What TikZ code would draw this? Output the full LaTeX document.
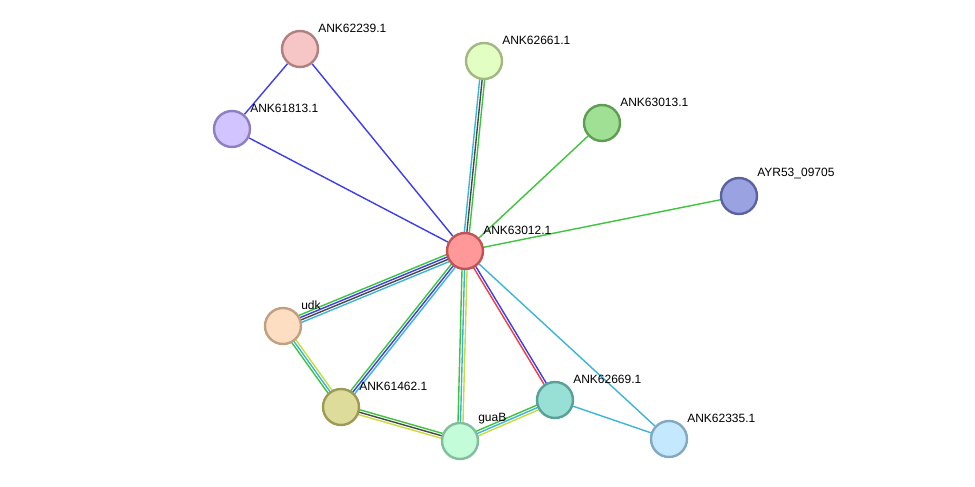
\documentclass[tikz,border=0pt]{standalone}
\usepackage{fontspec}
\setmainfont{Liberation Sans}
\usetikzlibrary{calc,backgrounds}

\definecolor{egreen}{HTML}{3CC43C}
\definecolor{eblue}{HTML}{3C3CF0}
\definecolor{ered}{HTML}{F03C3C}
\definecolor{egray}{HTML}{484848}
\definecolor{ecyan}{HTML}{3CB4D8}
\definecolor{eyellow}{HTML}{C8DC3C}
% protein fill / border
\definecolor{fA}{HTML}{FF9898}\definecolor{bA}{HTML}{C05454}
\definecolor{fB}{HTML}{F6C6C6}\definecolor{bB}{HTML}{B08080}
\definecolor{fC}{HTML}{E2FEC2}\definecolor{bC}{HTML}{A2B882}
\definecolor{fD}{HTML}{D2C4FE}\definecolor{bD}{HTML}{8E7EC2}
\definecolor{fE}{HTML}{A0E094}\definecolor{bE}{HTML}{5E9E52}
\definecolor{fF}{HTML}{9AA2E2}\definecolor{bF}{HTML}{5A62A2}
\definecolor{fG}{HTML}{FEDEC2}\definecolor{bG}{HTML}{C0A080}
\definecolor{fH}{HTML}{DEDC9A}\definecolor{bH}{HTML}{9C9A54}
\definecolor{fI}{HTML}{C2FCD8}\definecolor{bI}{HTML}{82BE9E}
\definecolor{fJ}{HTML}{98E0D6}\definecolor{bJ}{HTML}{58A098}
\definecolor{fK}{HTML}{C4E8FE}\definecolor{bK}{HTML}{82A8C2}

% bundle of parallel lines, colour/offset pairs
\newcommand{\lnk}[3]{%
  \foreach \c/\o in {#3} {\draw[edge,\c] ($(#1)!\o pt!90:(#2)$) -- ($(#2)!\o pt!-90:(#1)$);}}

\tikzset{
  prot/.style={circle,minimum size=36pt,inner sep=0pt,line width=2.4pt,
    fill=f#1,draw=b#1,label distance=5pt},
  every label/.style={font=\fontsize{12}{14}\selectfont,inner sep=2pt,xshift=2.5pt,yshift=1pt},
  edge/.style={line width=1.4pt}
}

\begin{document}
\begin{tikzpicture}[x=1pt,y=-1pt]
  \useasboundingbox (0,0) rectangle (975,487);

  % proteins
  \node[prot=A,label={45:ANK63012.1}] (c) at (465,251) {};
  \node[prot=B,label={45:ANK62239.1}] (p62239) at (300,49) {};
  \node[prot=C,label={45:ANK62661.1}] (p62661) at (484,61) {};
  \node[prot=D,label={45:ANK61813.1}] (p61813) at (232,129) {};
  \node[prot=E,label={45:ANK63013.1}] (p63013) at (602,123) {};
  \node[prot=F,label={45:AYR53\_09705}] (ayr) at (739,196) {};
  \node[prot=G,label={45:udk}] (udk) at (283,326) {};
  \node[prot=H,label={45:ANK61462.1}] (p61462) at (341,407) {};
  \node[prot=I,label={45:guaB}] (guab) at (460,441) {};
  \node[prot=J,label={45:ANK62669.1}] (p62669) at (555,400) {};
  \node[prot=K,label={45:ANK62335.1}] (p62335) at (669,439) {};

  % interactions
  \begin{pgfonlayer}{background}
    \lnk{c}{udk}{egreen/-3.75,eblue/-1.25,egray/1.25,ecyan/3.75}
    \lnk{c}{p61462}{egreen/-2.5,eblue/0,ecyan/2.5}
    \lnk{c}{guab}{egreen/-2.5,ecyan/0,eyellow/2.5}
    \lnk{c}{p62669}{ered/-1.25,eblue/1.25}
    \lnk{c}{p62661}{egreen/-2.5,egray/0,ecyan/2.5}
    \lnk{udk}{p61462}{egreen/-2.5,ecyan/0,eyellow/2.5}
    \lnk{p61462}{guab}{eyellow/-2.5,egray/0,egreen/2.5}
    \lnk{guab}{p62669}{eyellow/-2.5,ecyan/0,egreen/2.5}
    \draw[edge,egreen] (c) -- (p63013);
    \draw[edge,egreen] (c) -- (ayr);
    \draw[edge,eblue] (c) -- (p62239);
    \draw[edge,eblue] (c) -- (p61813);
    \draw[edge,eblue] (p62239) -- (p61813);
    \draw[edge,ecyan] (c) -- (p62335);
    \draw[edge,ecyan] (p62669) -- (p62335);
  \end{pgfonlayer}
\end{tikzpicture}
\end{document}
